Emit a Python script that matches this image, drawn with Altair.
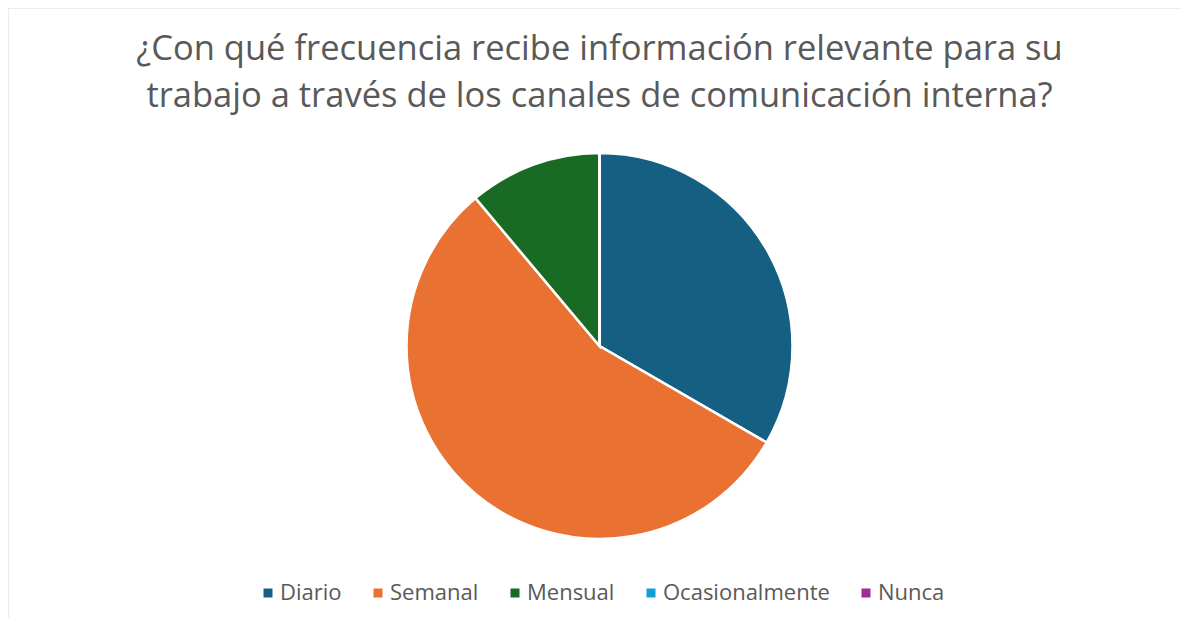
import altair as alt
import pandas as pd

categories = ["Diario", "Semanal", "Mensual", "Ocasionalmente", "Nunca"]
values = [3, 5, 1, 0, 0]
colors = ["#156082", "#E97132", "#196B24", "#0F9ED5", "#A02B93"]
title_lines = [
    "¿Con qué frecuencia recibe información relevante para su",
    "trabajo a través de los canales de comunicación interna?",
]

df = pd.DataFrame({"categoria": categories, "valor": values, "orden": list(range(len(categories)))})

W, H = 1173, 610
FONT = "Open Sans"
GREY = "#595959"

pie = alt.Chart(df).mark_arc(
    radius=193, stroke="white", strokeWidth=2.5
).encode(
    theta=alt.Theta("valor:Q", stack=True),
    order=alt.Order("orden:Q"),
    color=alt.Color(
        "categoria:N",
        scale=alt.Scale(domain=categories, range=colors),
        sort=categories,
        legend=alt.Legend(
            title=None, orient="none", direction="horizontal",
            legendX=249, legendY=574,
            symbolType="square", symbolSize=81, symbolStrokeWidth=0,
            labelFontSize=22, labelColor=GREY, labelFont=FONT,
            labelOffset=1, columnPadding=25, labelLimit=300,
        ),
    ),
    x=alt.value(591.5),
    y=alt.value(338),
)

frame = alt.Chart(pd.DataFrame({"k": [0]})).mark_rule(color="#d9d9d9", strokeWidth=1).encode(
    x=alt.value(0), y=alt.value(0), y2=alt.value(H)
)
frame_top = alt.Chart(pd.DataFrame({"k": [0]})).mark_rule(color="#d9d9d9", strokeWidth=1).encode(
    x=alt.value(0), x2=alt.value(W), y=alt.value(0)
)

chart = alt.layer(frame, frame_top, pie).properties(
    width=W, height=H,
    autosize=alt.AutoSizeParams(type="none"),
    padding=0,
    title=alt.TitleParams(
        text=title_lines, fontSize=34.5, font=FONT, color=GREY, fontWeight="normal",
        anchor="middle", orient="top", baseline="top", dy=82, dx=5, offset=-25, lineHeight=47,
    ),
).configure_view(stroke=None)

chart.save("out.html", embed_options={"renderer": "svg", "actions": False})
